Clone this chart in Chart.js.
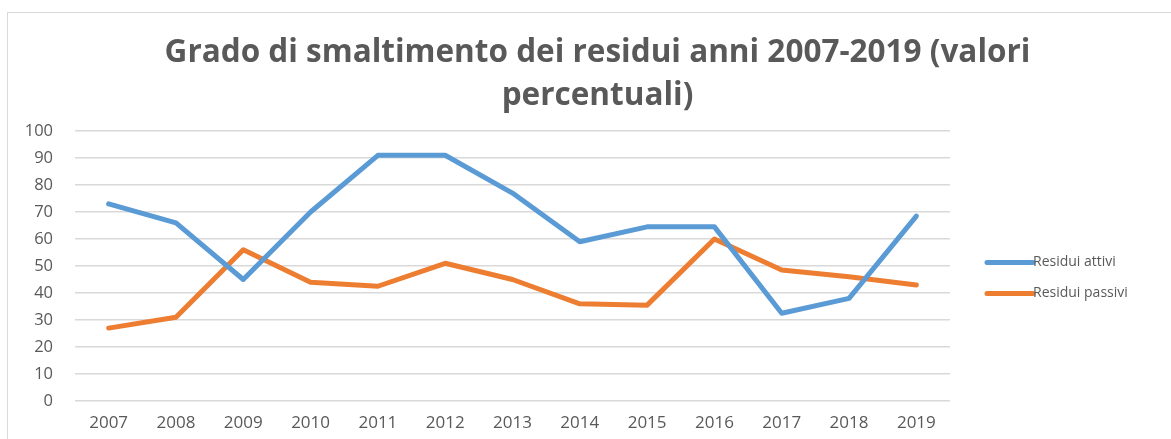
<!DOCTYPE html>
<html>
<head>
<meta charset="utf-8">
<script src="https://cdn.jsdelivr.net/npm/chart.js@4"></script>
<style>
  html, body { margin: 0; padding: 0; background: #ffffff; }
  #frame { position: absolute; left: 7px; top: 12px; width: 1300px; height: 600px; border: 1px solid #d9d9d9; }
  #wrap { position: absolute; left: 0; top: 0; width: 1171px; height: 439px; }
</style>
</head>
<body>
<div id="frame"></div>
<div id="wrap"><canvas id="c" width="1171" height="439"></canvas></div>
<script>
const titleLines = ["Grado di smaltimento dei residui anni 2007-2019 (valori", "percentuali)"];
const categories = ["2007","2008","2009","2010","2011","2012","2013","2014","2015","2016","2017","2018","2019"];
const residuiAttivi = [73, 66, 45, 70, 91, 91, 77, 59, 64.5, 64.5, 32.5, 38, 68.5];
const residuiPassivi = [27, 31, 56, 44, 42.5, 51, 45, 36, 35.5, 60, 48.5, 46, 43];
const seriesNames = ["Residui attivi", "Residui passivi"];
const yTicks = [0, 10, 20, 30, 40, 50, 60, 70, 80, 90, 100];

const textColor = "#595959";
const FONT = "'Open Sans', Lato, sans-serif";

// Legend drawn to the right of the plot area, from the datasets themselves
const sideLegend = {
  id: "sideLegend",
  afterDraw(chart) {
    const ctx = chart.ctx;
    const area = chart.chartArea;
    const x0 = area.right + 35;
    const lineLen = 48;
    const rowGap = 31;
    const n = chart.data.datasets.length;
    const yStart = (area.top + area.bottom) / 2 + 12 - (n - 1) * rowGap / 2;
    ctx.save();
    ctx.font = "14px " + FONT;
    ctx.textBaseline = "middle";
    ctx.textAlign = "left";
    chart.data.datasets.forEach((ds, i) => {
      const y = yStart + i * rowGap;
      ctx.strokeStyle = ds.borderColor;
      ctx.lineWidth = 5;
      ctx.lineCap = "round";
      ctx.beginPath();
      ctx.moveTo(x0 + 2, y);
      ctx.lineTo(x0 + lineLen, y);
      ctx.stroke();
      ctx.fillStyle = textColor;
      ctx.fillText(ds.label, x0 + lineLen, y);
    });
    ctx.restore();
  }
};

new Chart(document.getElementById("c"), {
  type: "line",
  data: {
    labels: categories,
    datasets: [
      { label: seriesNames[0], data: residuiAttivi, borderColor: "#5B9BD5", backgroundColor: "#5B9BD5",
        borderWidth: 5, pointRadius: 0, tension: 0, borderJoinStyle: "round", borderCapStyle: "round" },
      { label: seriesNames[1], data: residuiPassivi, borderColor: "#ED7D31", backgroundColor: "#ED7D31",
        borderWidth: 5, pointRadius: 0, tension: 0, borderJoinStyle: "round", borderCapStyle: "round" }
    ]
  },
  plugins: [sideLegend],
  options: {
    responsive: false,
    animation: false,
    layout: { padding: { left: 24, right: 0, top: 20, bottom: 0 } },
    plugins: {
      title: {
        display: true, text: titleLines, color: textColor,
        font: { family: FONT, size: 31.5, weight: "bold", lineHeight: 1.365 },
        padding: { top: 11.5, bottom: 13.5 }
      },
      legend: { display: false },
      tooltip: { enabled: false }
    },
    scales: {
      x: {
        offset: true,
        afterFit: (s) => { s.height = 38; },
        grid: { display: false, drawTicks: false },
        border: { display: false },
        ticks: { color: textColor, font: { family: FONT, size: 17 }, padding: 12, maxRotation: 0 }
      },
      y: {
        min: 0, max: 100,
        afterBuildTicks: (s) => { s.ticks = yTicks.map(v => ({ value: v })); },
        afterFit: (s) => { s.width = 51; },
        grid: { color: "#d9d9d9", lineWidth: 1.5, drawTicks: false },
        border: { display: false },
        ticks: { color: textColor, font: { family: FONT, size: 16.5 }, padding: 22 }
      },
      side: {
        type: "linear",
        position: "right",
        display: true,
        afterFit: (s) => { s.width = 221; },
        grid: { display: false, drawTicks: false },
        border: { display: false },
        ticks: { display: false }
      }
    }
  }
});
</script>
</body>
</html>
